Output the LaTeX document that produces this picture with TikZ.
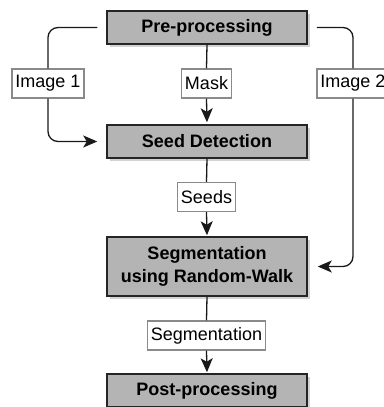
\documentclass[tikz,border=0pt]{standalone}
\usepackage{fontspec}
\setmainfont{Liberation Sans}
\usetikzlibrary{arrows.meta,shadows}
\definecolor{boxfill}{HTML}{B4B4B4}
\definecolor{boxline}{HTML}{252525}
\definecolor{lblline}{HTML}{8A8A8A}
\begin{document}
\begin{tikzpicture}[x=1pt,y=-1pt,
  stagebox/.style={draw=boxline,line width=1.5pt,fill=boxfill,minimum width=200pt,
    inner sep=0pt,align=center,font=\fontsize{18}{23}\selectfont\bfseries,
    drop shadow={opacity=0.35,shadow xshift=2.5pt,shadow yshift=-2.5pt}},
  lbl/.style={draw=lblline,line width=1.4pt,fill=white,minimum height=29pt,inner xsep=3.5pt,
    inner ysep=0pt,font=\fontsize{18}{21}\selectfont},
  conn/.style={draw=black!90,line width=1.3pt},
  arr/.style={conn,-{Stealth[length=14pt,width=12pt,inset=3.5pt]}},
  side/.style={conn,rounded corners=10pt}]
\useasboundingbox (0,0) rectangle (383,407);
\node[stagebox,minimum height=33pt] (pre) at (207,27.5) {Pre-processing};
\node[stagebox,minimum height=33pt] (seed) at (207,141.5) {Seed Detection};
\node[stagebox,minimum height=59pt] (seg) at (207,266.5) {Segmentation\\using Random-Walk};
\node[stagebox,minimum height=33pt] (post) at (207,390.5) {Post-processing};
\node[lbl] (img1) at (48,83.5) {Image 1};
\node[lbl] (mask) at (206.5,83.5) {Mask};
\node[lbl] (img2) at (353,83.5) {Image 2};
\node[lbl] (seeds) at (206.5,197) {Seeds};
\node[lbl] (segl) at (206.5,335.5) {Segmentation};
\draw[side,shorten <=9pt] (pre.west) -| (img1.north);
\draw[side,arr,shorten >=9pt] (img1.south) |- (seed.west);
\draw[side,shorten <=9pt] (pre.east) -| (img2.north);
\draw[side,arr,shorten >=10pt] (img2.south) |- (seg.east);
\draw[conn] (pre.south) -- (mask.north);
\draw[arr,shorten >=2pt] (mask.south) -- (seed.north);
\draw[conn] (seed.south) -- (seeds.north);
\draw[arr,shorten >=1pt] (seeds.south) -- (seg.north);
\draw[conn] (seg.south) -- (segl.north);
\draw[arr,shorten >=1pt] (segl.south) -- (post.north);
\end{tikzpicture}
\end{document}
